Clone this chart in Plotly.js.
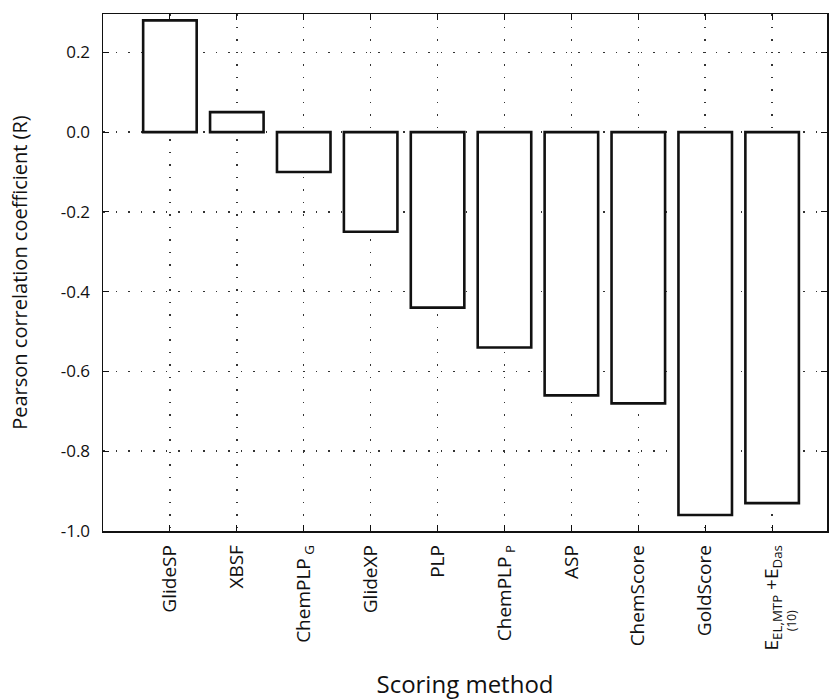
<!DOCTYPE html>
<html><head><meta charset="utf-8">
<script src="https://cdn.plot.ly/plotly-3.0.1.min.js"></script>
<style>body{margin:0;background:#fff}#chart{width:830px;height:700px}</style>
</head><body><div id="chart"></div>
<script>
const methods = ["GlideSP","XBSF","ChemPLP<sub> G</sub>","GlideXP","PLP","ChemPLP<sub> P</sub>","ASP","ChemScore","GoldScore","E<sub>EL,MTP</sub> +E<sub>Das</sub>"];
const pearsonR = [0.28, 0.05, -0.10, -0.25, -0.44, -0.54, -0.66, -0.68, -0.96, -0.93];
const yTickVals = [-1.0, -0.8, -0.6, -0.4, -0.2, 0.0, 0.2];
const yTickText = ["-1.0","-0.8","-0.6","-0.4","-0.2","0.0","0.2"];

const font = "Open Sans, Noto Sans, sans-serif";
const trace = {
  type: "bar", x: methods, y: pearsonR, width: 0.8,
  marker: {color: "#ffffff", line: {color: "#111", width: 2.6}},
  hoverinfo: "skip"
};
const layout = {
  width: 830, height: 700,
  margin: {l: 103, r: 3, t: 14, b: 169},
  paper_bgcolor: "#fff", plot_bgcolor: "#fff",
  font: {family: font, color: "#111", size: 17},
  showlegend: false,
  xaxis: {
    type: "category", range: [-1, 9.82],
    showline: true, linecolor: "#111", linewidth: 1.5, mirror: "ticks",
    ticks: "inside", ticklen: 6, tickcolor: "#111",
    tickangle: -90, tickfont: {size: 19, family: font},
    ticklabelstandoff: 5,
    showgrid: true, gridcolor: "#333", gridwidth: 1.5, griddash: "1.5px,11px",
    zeroline: false,
    title: {text: "Scoring method", font: {size: 24, family: font}, standoff: 29}
  },
  yaxis: {
    range: [-1.0, 0.296],
    tickvals: yTickVals, ticktext: yTickText,
    showline: true, linecolor: "#111", linewidth: 1.5, mirror: "ticks",
    ticks: "inside", ticklen: 6, tickcolor: "#111",
    tickfont: {size: 17, family: font},
    ticklabelstandoff: 8,
    showgrid: true, gridcolor: "#333", gridwidth: 1.5, griddash: "1.5px,11px",
    zeroline: false,
    title: {text: "Pearson correlation coefficient (R)", font: {size: 20, family: font}, standoff: 27}
  },
  annotations: [{
    xref: "x", yref: "paper", x: 9, y: 0, xshift: 19, yshift: -90,
    xanchor: "center", yanchor: "middle",
    text: "(10)", showarrow: false, textangle: -90,
    font: {size: 12, family: font, color: "#111"}
  }]
};
Plotly.newPlot("chart", [trace], layout, {displayModeBar: false, staticPlot: true});
</script></body></html>
